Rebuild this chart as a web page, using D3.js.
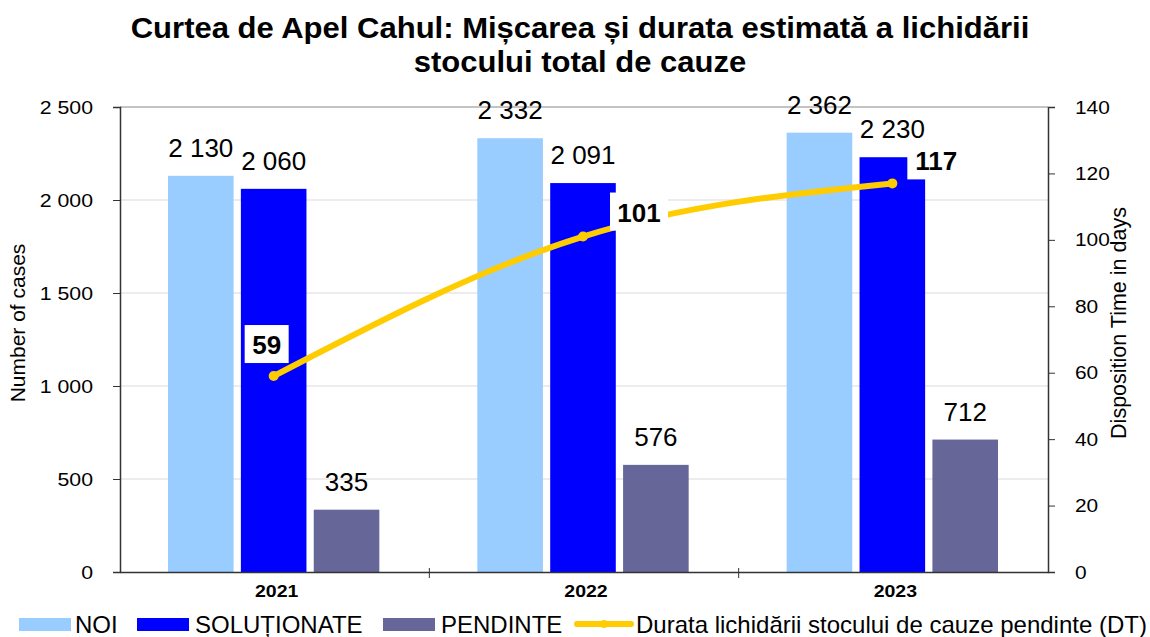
<!DOCTYPE html>
<html>
<head>
<meta charset="utf-8">
<script src="https://cdn.jsdelivr.net/npm/d3@7"></script>
<style>
  body { margin: 0; background: #fff; }
  text { font-family: Arial, "Liberation Sans", sans-serif; }
</style>
</head>
<body>
<div id="chart"></div>
<script>
"use strict";

// data
let years = ["2021", "2022", "2023"];
let seriesNames = ["NOI", "SOLUȚIONATE", "PENDINTE"];
let noi = [2130, 2332, 2362];
let solutionate = [2060, 2091, 2230];
let pendinte = [335, 576, 712];
let durata = [59, 101, 117];
let lineName = "Durata lichidării stocului de cauze pendinte (DT)";
let leftTicks = [0, 500, 1000, 1500, 2000, 2500];
let rightTicks = [0, 20, 40, 60, 80, 100, 120, 140];

let colors = ["#99ccff", "#0000ff", "#666699"];
let lineColor = "#ffcc00";
let fontStack = "Arial, 'Liberation Sans', sans-serif";

let width = 1150, height = 637;
let margins = { top: 107, left: 120, right: 102, bottom: 65 };

let svg = d3.select("#chart").append("svg")
  .attr("width", width)
  .attr("height", height);

let x = d3.scaleBand()
  .domain(years)
  .range([margins.left, width - margins.right]);

let xInner = d3.scaleBand()
  .domain(seriesNames)
  .range([48, x.bandwidth() - 50])
  .paddingInner(0.1);

let y = d3.scaleLinear()
  .domain([0, 2500])
  .range([height - margins.bottom, margins.top]);

let y2 = d3.scaleLinear()
  .domain([0, 140])
  .range([height - margins.bottom, margins.top]);

let fmt = v => d3.format(",")(v).replace(/,/g, " ");

// the original text is a bit wider than Arial, stretch it horizontally
function stretch(sel, sx) {
  sel.each(function() {
    let t = d3.select(this);
    let x0 = +t.attr("x") || 0;
    t.attr("x", x0 / sx).attr("transform", "scale(" + sx + ",1)");
  });
}

// title
let title = svg.append("g");
title.append("text")
  .attr("x", 580).attr("y", 38)
  .text("Curtea de Apel Cahul: Mișcarea și durata estimată a lichidării");
title.append("text")
  .attr("x", 580).attr("y", 72)
  .text("stocului total de cauze");
title.selectAll("text")
  .attr("text-anchor", "middle")
  .style("font-size", "29px").style("font-weight", "bold")
  .call(stretch, 1.07);

// gridlines
svg.append("g").selectAll("line")
  .data(leftTicks.slice(1))
  .enter().append("line")
  .attr("x1", margins.left).attr("x2", width - margins.right)
  .attr("y1", d => y(d)).attr("y2", d => y(d))
  .style("stroke", d => d === 2500 ? "#888" : "#d9d9d9")
  .style("stroke-width", 1);

// bars
let table = years.map((yr, i) => ({ year: yr, values: [noi[i], solutionate[i], pendinte[i]] }));

let groups = svg.append("g").selectAll(".yearG")
  .data(table)
  .enter().append("g")
  .attr("class", "yearG")
  .attr("transform", d => "translate(" + x(d.year) + ",0)");

groups.each(function(d) {
  let g = d3.select(this);
  d.values.forEach((v, k) => {
    g.append("rect")
      .attr("x", xInner(seriesNames[k]))
      .attr("width", xInner.bandwidth())
      .attr("y", y(v))
      .attr("height", y(0) - y(v))
      .style("fill", colors[k]);
    g.append("text")
      .attr("x", xInner(seriesNames[k]) + xInner.bandwidth() / 2)
      .attr("y", y(v) - 19)
      .attr("text-anchor", "middle")
      .style("font-size", "26px")
      .text(fmt(v));
  });
});

// axes
let leftAxis = d3.axisLeft(y).tickValues(leftTicks).tickFormat(fmt).tickSize(7).tickPadding(20);
let gl = svg.append("g")
  .attr("transform", "translate(" + margins.left + ",0)")
  .call(leftAxis);
gl.select(".domain").style("stroke", "#333").style("stroke-width", 1.5);
gl.selectAll(".tick line").style("stroke", "#333");
gl.selectAll(".tick text").style("font-size", "19px").style("font-family", fontStack)
  .call(stretch, 1.12);

let rightAxis = d3.axisRight(y2).tickValues(rightTicks).tickSize(7).tickPadding(20);
let gr = svg.append("g")
  .attr("transform", "translate(" + (width - margins.right) + ",0)")
  .call(rightAxis);
gr.select(".domain").style("stroke", "#333").style("stroke-width", 1.5);
gr.selectAll(".tick line").style("stroke", "#333");
gr.selectAll(".tick text").style("font-size", "19px").style("font-family", fontStack)
  .call(stretch, 1.1);

let bottomAxis = d3.axisBottom(x).tickSize(0).tickPadding(14);
let gb = svg.append("g")
  .attr("transform", "translate(0," + y(0) + ")")
  .call(bottomAxis);
gb.select(".domain").style("stroke", "#333").style("stroke-width", 1.5);
gb.selectAll(".tick text")
  .attr("x", 2)
  .style("font-size", "16px").style("font-weight", "bold")
  .style("font-family", fontStack)
  .call(stretch, 1.22);
// category separators
gb.selectAll(".sep")
  .data(years.slice(1))
  .enter().append("line")
  .attr("x1", d => x(d)).attr("x2", d => x(d))
  .attr("y1", -4).attr("y2", 6)
  .style("stroke", "#333");

// axis titles
svg.append("text")
  .attr("transform", "translate(25,323) rotate(-90)")
  .attr("text-anchor", "middle")
  .style("font-size", "21px")
  .text("Number of cases");
svg.append("text")
  .attr("transform", "translate(1126,323) rotate(-90)")
  .attr("text-anchor", "middle")
  .style("font-size", "21.5px")
  .text("Disposition Time in days");

// line
let lineX = i => x(years[i]) + xInner(seriesNames[1]) + xInner.bandwidth() / 2;
let line = d3.line()
  .x((d, i) => lineX(i))
  .y(d => y2(d))
  .curve(d3.curveMonotoneX);

svg.append("path")
  .datum(durata)
  .attr("d", line)
  .style("fill", "none")
  .style("stroke", lineColor)
  .style("stroke-width", 6)
  .style("stroke-linecap", "round");

svg.append("g").selectAll("circle")
  .data(durata)
  .enter().append("circle")
  .attr("cx", (d, i) => lineX(i))
  .attr("cy", d => y2(d))
  .attr("r", 5)
  .style("fill", lineColor);

// line labels with white boxes
let labelOffsets = [[-7, -32], [56, -25], [44, -23]];
durata.forEach((d, i) => {
  let cx = lineX(i) + labelOffsets[i][0];
  let cy = y2(d) + labelOffsets[i][1];
  let t = String(d);
  let w = t.length * 14 + 16;
  svg.append("rect")
    .attr("x", cx - w / 2).attr("y", cy - 19)
    .attr("width", w).attr("height", 38)
    .style("fill", "#fff");
  svg.append("text")
    .attr("x", cx).attr("y", cy + 10)
    .attr("text-anchor", "middle")
    .style("font-size", "26px").style("font-weight", "bold")
    .text(t);
});

// legend
let legendItems = [
  { name: seriesNames[0], color: colors[0], x: 19, tx: 75 },
  { name: seriesNames[1], color: colors[1], x: 137, tx: 195 },
  { name: seriesNames[2], color: colors[2], x: 383, tx: 441 },
];
let ly = 624;
legendItems.forEach(item => {
  svg.append("rect")
    .attr("x", item.x).attr("y", ly - 6)
    .attr("width", 52).attr("height", 13)
    .style("fill", item.color);
  svg.append("text")
    .attr("x", item.tx).attr("y", ly + 9)
    .style("font-size", "24px")
    .text(item.name);
});
svg.append("line")
  .attr("x1", 577).attr("x2", 631)
  .attr("y1", ly).attr("y2", ly)
  .style("stroke", lineColor).style("stroke-width", 6)
  .style("stroke-linecap", "round");
svg.append("circle")
  .attr("cx", 604).attr("cy", ly).attr("r", 4)
  .style("fill", lineColor);
svg.append("text")
  .attr("x", 636).attr("y", ly + 9)
  .style("font-size", "24px")
  .text(lineName);
</script>
</body>
</html>
